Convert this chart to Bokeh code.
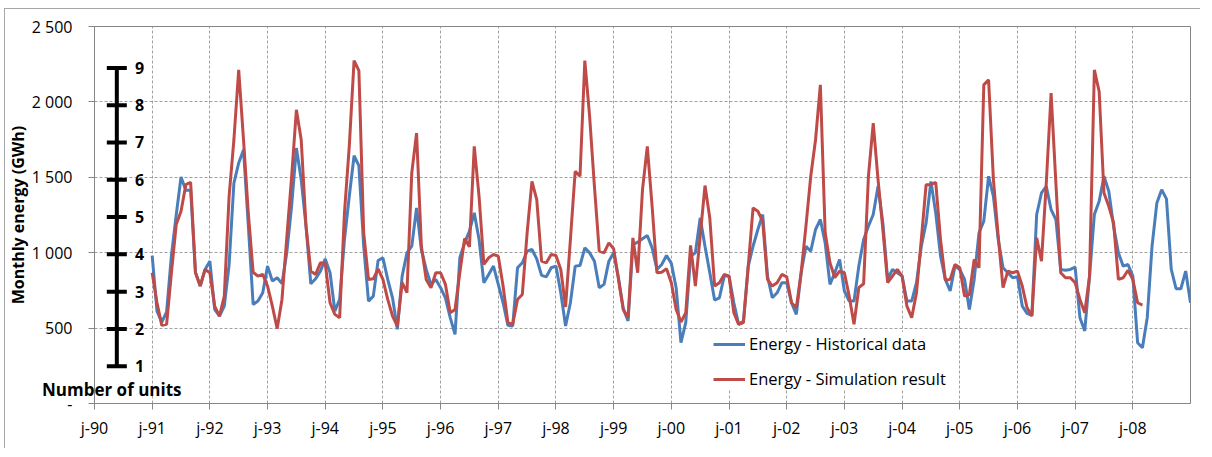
from bokeh.plotting import figure
from bokeh.models import Range1d, FixedTicker, Legend, LegendItem, Div
from bokeh.layouts import column
from bokeh.embed import file_html
from bokeh.resources import INLINE
from bokeh.core.properties import value

# ---------------- data ----------------
# Monthly energy (GWh), historical data: Jan 1991 .. Jan 2009
hist = [
    981, 613, 540, 607, 980, 1250, 1502, 1414, 1414, 870, 780, 889,      # 1991
    944, 624, 580, 646, 920, 1462, 1595, 1683, 1180, 657, 679, 734,      # 1992
    911, 812, 834, 795, 999, 1308, 1694, 1485, 1176, 794, 827, 878,      # 1993
    959, 867, 613, 690, 1087, 1374, 1643, 1577, 1043, 679, 712, 948,     # 1994
    966, 823, 701, 492, 845, 999, 1043, 1297, 1021, 889, 790, 823,       # 1995
    768, 701, 569, 459, 966, 1065, 1143, 1264, 1087, 801, 856, 911,      # 1996
    790, 668, 518, 514, 900, 933, 1010, 1021, 959, 850, 840, 900,        # 1997
    911, 734, 514, 668, 911, 915, 1032, 999, 944, 768, 790, 944,         # 1998
    999, 834, 629, 547, 1054, 1070, 1092, 1114, 1032, 889, 922, 981,     # 1999
    929, 768, 403, 536, 977, 999, 1231, 1043, 867, 686, 701, 845,        # 2000
    845, 668, 525, 547, 911, 1043, 1154, 1253, 845, 701, 734, 801,       # 2001
    801, 668, 591, 867, 1043, 1010, 1154, 1220, 1065, 790, 867, 955,     # 2002
    746, 679, 679, 911, 1087, 1176, 1253, 1440, 1198, 823, 889, 867,     # 2003
    845, 679, 679, 801, 1043, 1198, 1473, 1264, 977, 823, 746, 911,      # 2004
    889, 823, 624, 823, 1132, 1209, 1507, 1374, 1087, 900, 867, 834,     # 2005
    840, 646, 598, 584, 1253, 1396, 1440, 1286, 1220, 889, 884, 889,     # 2006
    904, 569, 481, 845, 1253, 1341, 1507, 1407, 1176, 999, 911, 922,     # 2007
    845, 403, 370, 569, 1043, 1330, 1418, 1357, 889, 761, 761, 878,      # 2008
    668,                                                                 # 2009
]
# Monthly energy (GWh), simulation result: Jan 1991 .. Mar 2008
sim = [
    867, 668, 518, 525, 867, 1187, 1275, 1451, 1467, 867, 779, 889,      # 1991
    867, 646, 580, 712, 1374, 1749, 2212, 1750, 1260, 870, 845, 856,     # 1992
    779, 646, 496, 690, 1100, 1500, 1948, 1749, 1176, 878, 856, 933,     # 1993
    929, 668, 591, 569, 1264, 1705, 2274, 2208, 1132, 823, 827, 893,     # 1994
    823, 690, 580, 514, 801, 735, 1529, 1793, 1043, 823, 768, 867,       # 1995
    867, 790, 602, 624, 867, 1094, 1039, 1705, 1374, 922, 966, 988,      # 1996
    977, 779, 536, 525, 690, 723, 1132, 1473, 1352, 944, 933, 988,       # 1997
    981, 889, 640, 1087, 1540, 1507, 2274, 1904, 1440, 1010, 999, 1065,  # 1998
    1026, 823, 624, 569, 1098, 867, 1418, 1705, 1308, 867, 871, 893,     # 1999
    801, 624, 540, 602, 1048, 779, 1109, 1445, 1230, 779, 801, 856,      # 2000
    845, 602, 525, 536, 911, 1297, 1275, 1209, 823, 779, 801, 856,       # 2001
    840, 668, 635, 867, 1176, 1507, 1749, 2113, 1132, 933, 834, 878,     # 2002
    867, 712, 525, 768, 794, 1507, 1860, 1485, 1154, 801, 845, 889,      # 2003
    845, 646, 569, 735, 1087, 1451, 1451, 1467, 1087, 818, 823, 922,     # 2004
    900, 712, 723, 955, 900, 2113, 2146, 1485, 1109, 768, 878, 867,      # 2005
    878, 779, 635, 580, 1098, 944, 1462, 2058, 1460, 867, 834, 834,      # 2006
    801, 690, 602, 845, 2212, 2069, 1396, 1308, 1198, 823, 834, 884,     # 2007
    823, 668, 653,                                                       # 2008
]
series_start_year = 1991

x_tick_years = [1990, 1991, 1992, 1993, 1994, 1995, 1996, 1997, 1998, 1999,
                2000, 2001, 2002, 2003, 2004, 2005, 2006, 2007, 2008]
x_tick_labels = ["j-90", "j-91", "j-92", "j-93", "j-94", "j-95", "j-96", "j-97", "j-98", "j-99",
                 "j-00", "j-01", "j-02", "j-03", "j-04", "j-05", "j-06", "j-07", "j-08"]
y_tick_values = [0, 500, 1000, 1500, 2000, 2500]
y_tick_labels = ["-", "500", "1 000", "1 500", "2 000", "2 500"]
unit_ticks = [1, 2, 3, 4, 5, 6, 7, 8, 9]
unit_labels = ["1", "2", "3", "4", "5", "6", "7", "8", "9"]

hist_x = [series_start_year + i / 12 for i in range(len(hist))]
sim_x = [series_start_year + i / 12 for i in range(len(sim))]

# ---------------- styling / layout constants ----------------
BLUE = "#4A7EBB"
RED = "#BE4B48"
AXIS_GRAY = "#868686"
GRID_GRAY = "#a0a0a0"
FONT = "Open Sans"
UNITS_MAX = 10.11          # "Number of units" scale spread over the energy range
UNITS_AXIS_X = 1990.387    # position of the drawn units axis
UNITS_LABEL_X = 1990.70

p = figure(frame_width=1096, frame_height=377, output_backend="svg", toolbar_location=None,
           x_range=Range1d(1990, 2009), y_range=Range1d(0, 2500),
           min_border_left=94, min_border_right=6, min_border_top=26, min_border_bottom=46,
           background_fill_color="white", border_fill_color="white")
p.extra_y_ranges = {"units": Range1d(0, UNITS_MAX)}

p.outline_line_color = AXIS_GRAY
p.outline_line_width = 1

# axes
p.xaxis.ticker = FixedTicker(ticks=x_tick_years)
p.xaxis.major_label_overrides = {y: l for y, l in zip(x_tick_years, x_tick_labels)}
p.yaxis.ticker = FixedTicker(ticks=y_tick_values)
p.yaxis.major_label_overrides = {v: l for v, l in zip(y_tick_values, y_tick_labels)}
for ax in (p.xaxis, p.yaxis):
    ax.axis_line_color = AXIS_GRAY
    ax.major_tick_line_color = AXIS_GRAY
    ax.major_tick_out = 6
    ax.major_tick_in = 0
    ax.minor_tick_line_color = None
    ax.major_label_text_font = FONT
    ax.major_label_text_font_size = "16px"
    ax.major_label_text_color = "black"
p.xaxis.major_label_standoff = 7
p.yaxis.major_label_standoff = 16
p.yaxis.axis_label = "Monthly energy (GWh)"
p.yaxis.axis_label_text_font = FONT
p.yaxis.axis_label_text_font_size = "16px"
p.yaxis.axis_label_text_font_style = "bold"
p.yaxis.axis_label_text_color = "black"
p.yaxis.axis_label_standoff = 0

# grids
p.xgrid.grid_line_color = GRID_GRAY
p.xgrid.grid_line_dash = "3 2"
p.ygrid.grid_line_color = GRID_GRAY
p.ygrid.grid_line_dash = "3 2"

# data lines
r_hist = p.line(hist_x, hist, line_color=BLUE, line_width=3)
r_sim = p.line(sim_x, sim, line_color=RED, line_width=3)

# drawn "Number of units" axis
p.segment(x0=[UNITS_AXIS_X], y0=[unit_ticks[0]], x1=[UNITS_AXIS_X], y1=[unit_ticks[-1]],
          line_color="black", line_width=4, y_range_name="units")
p.scatter(x=[UNITS_AXIS_X] * len(unit_ticks), y=unit_ticks, marker="dash", size=20,
          line_color="black", line_width=4, y_range_name="units")
p.text(x=[UNITS_LABEL_X] * len(unit_ticks), y=unit_ticks, text=unit_labels,
       text_font=value(FONT), text_font_size="16px", text_font_style="bold",
       text_align="left", text_baseline="middle", text_color="black", y_range_name="units")

legend = Legend(items=[LegendItem(label="Energy - Historical data", renderers=[r_hist]),
                       LegendItem(label="Energy - Simulation result", renderers=[r_sim])],
                location=(619, 13), orientation="vertical",
                glyph_width=32, glyph_height=20, label_height=20, label_standoff=4,
                spacing=12, padding=4, margin=0,
                border_line_color=None, background_fill_color="white", background_fill_alpha=1,
                label_text_font=FONT, label_text_font_size="16.5px", label_text_color="black")
p.add_layout(legend)

# title of the units scale, which in the original overlaps the left axis area
units_title = Div(text="Number of units", margin=0,
                  styles={"position": "absolute", "left": "42px", "top": "379px",
                          "font-family": "Open Sans", "font-size": "17px",
                          "font-weight": "bold", "color": "black",
                          "white-space": "nowrap", "line-height": "22px"})
# chart-area frame (only its top and left edges fall inside the picture)
chart_frame = Div(text="", margin=0, width=1200, height=440,
                  styles={"position": "absolute", "left": "4px", "top": "8px",
                          "border-top": "1px solid #a6a6a6", "border-left": "1px solid #a6a6a6",
                          "pointer-events": "none"})

page = column(p, units_title, chart_frame)
open("out.html", "w").write(file_html(page, INLINE))
